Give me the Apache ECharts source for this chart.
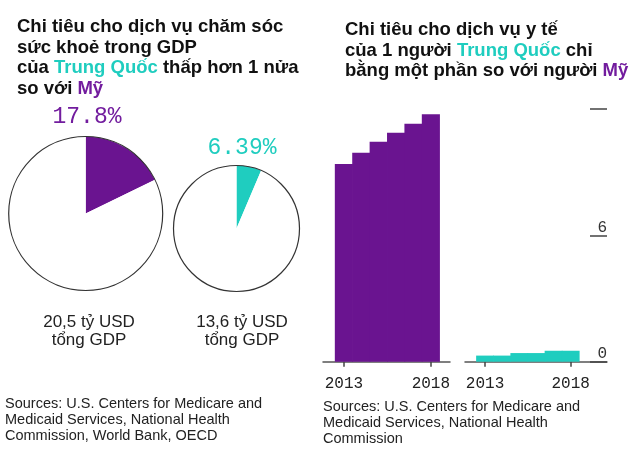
<!DOCTYPE html>
<html><head><meta charset="utf-8">
<script src="https://cdn.jsdelivr.net/npm/echarts@6/dist/echarts.min.js"></script>
<style>html,body{margin:0;padding:0;background:#fff}#c{width:630px;height:449px}</style>
</head><body><div id="c"></div>
<script>
// ---- data ----
const pieShares = [17.8, 6.39];
const pieShareLabels = ['17.8%', '6.39%'];
const gdpLabels = ['20,5 tỷ USD', '13,6 tỷ USD'];
const gdpSubLabel = 'tổng GDP';
const years = [2013, 2014, 2015, 2016, 2017, 2018];
const usSpend = [9.39, 9.92, 10.45, 10.87, 11.30, 11.75];
const chinaSpend = [0.29, 0.29, 0.41, 0.41, 0.52, 0.52];
const yearTicks = [2013, 2018];
const yHiddenLabels = [12];
const sourcesLeft = ['Sources: U.S. Centers for Medicare and', 'Medicaid Services, National Health', 'Commission, World Bank, OECD'];
const sourcesRight = ['Sources: U.S. Centers for Medicare and', 'Medicaid Services, National Health', 'Commission'];

// ---- style ----
const PURPLE = '#6a1490';
const PURPLE_TXT = '#721c9e';
const TEAL = '#1fcdbf';
const SANS = 'Liberation Sans';
const MONO = 'Liberation Mono';
const richT = {
  b: {fontFamily: SANS, fontWeight: 'bold', fontSize: 18.5, color: '#111', lineHeight: 20.5},
  t: {fontFamily: SANS, fontWeight: 'bold', fontSize: 18.5, color: TEAL, lineHeight: 20.5},
  p: {fontFamily: SANS, fontWeight: 'bold', fontSize: 18.5, color: PURPLE_TXT, lineHeight: 20.5}
};

const pieGeo = [
  {center: [85.7, 213.5], r: 77, color: PURPLE, txt: PURPLE_TXT, labX: 87, labTop: 105, gdpX: 89},
  {center: [236.5, 228.5], r: 63, color: TEAL, txt: TEAL, labX: 242, labTop: 136, gdpX: 242}
];

const titles = [
  {text: '{b|Chi tiêu cho dịch vụ chăm sóc}\n{b|sức khoẻ trong GDP}\n{b|của }{t|Trung Quốc}{b| thấp hơn 1 nửa}\n{b|so với }{p|Mỹ}',
   left: 17, top: 17, padding: 0, textStyle: {rich: richT}},
  {text: '{b|Chi tiêu cho dịch vụ y tế}\n{b|của 1 người }{t|Trung Quốc}{b| chỉ}\n{b|bằng một phần so với người }{p|Mỹ}',
   left: 345, top: 20, padding: 0, textStyle: {rich: richT}},
  {text: sourcesLeft.join('\n'), left: 5, top: 396, padding: 0,
   textStyle: {fontFamily: SANS, fontSize: 14.5, fontWeight: 'normal', color: '#222', lineHeight: 16}},
  {text: sourcesRight.join('\n'), left: 323, top: 399, padding: 0,
   textStyle: {fontFamily: SANS, fontSize: 14.5, fontWeight: 'normal', color: '#222', lineHeight: 16}}
];
const series = [];
pieShares.forEach((v, i) => {
  const g = pieGeo[i];
  titles.push({text: pieShareLabels[i], left: g.labX, top: g.labTop, textAlign: 'center', padding: 0,
    textStyle: {fontFamily: MONO, fontSize: 23, fontWeight: 'normal', color: g.txt}});
  titles.push({text: gdpLabels[i] + '\n' + gdpSubLabel, left: g.gdpX, top: 313, textAlign: 'center', padding: 0,
    textStyle: {fontFamily: SANS, fontSize: 17, fontWeight: 'normal', color: '#222', lineHeight: 18}});
  series.push({type: 'pie', center: g.center, radius: g.r, startAngle: 90, silent: true, animation: false,
    label: {show: false}, labelLine: {show: false},
    data: [{value: v, itemStyle: {color: g.color}}, {value: 100 - v, itemStyle: {color: '#fff'}}]});
  series.push({type: 'pie', center: g.center, radius: g.r, silent: true, animation: false, z: 3,
    label: {show: false}, labelLine: {show: false},
    data: [{value: 1, itemStyle: {color: 'rgba(0,0,0,0)', borderColor: '#333', borderWidth: 1.2}}]});
});

function xAx(idx, min, max) {
  return {gridIndex: idx, type: 'value', min: min, max: max,
    axisLine: {show: true, onZero: false, lineStyle: {color: '#555', width: 1.5}},
    axisTick: {show: true, customValues: yearTicks, length: 5, lineStyle: {color: '#444', width: 1.5}},
    axisLabel: {customValues: yearTicks, margin: 14, fontFamily: MONO, fontSize: 16, color: '#222', formatter: v => String(v)},
    splitLine: {show: false}};
}

// bars touching each other (one year wide), drawn via the axes' own scales
function stepBars(color) {
  return function (params, api) {
    const x = api.value(0), y = api.value(1);
    const pTop = api.coord([x - 0.5, y]);
    const pEnd = api.coord([x + 0.5, 0]);
    return {type: 'rect',
      shape: {x: pTop[0] - 0.35, y: pTop[1], width: pEnd[0] - pTop[0] + 0.7, height: pEnd[1] - pTop[1]},
      style: {fill: color}};
  };
}
series.push({type: 'custom', xAxisIndex: 0, yAxisIndex: 0, silent: true, animation: false, z: 1,
  renderItem: stepBars(PURPLE), encode: {x: 0, y: 1}, data: years.map((y, i) => [y, usSpend[i]])});
series.push({type: 'custom', xAxisIndex: 1, yAxisIndex: 1, silent: true, animation: false, z: 1,
  renderItem: stepBars(TEAL), encode: {x: 0, y: 1}, data: years.map((y, i) => [y, chinaSpend[i]])});

const option = {
  animation: false,
  backgroundColor: '#fff',
  title: titles,
  grid: [
    {left: 323, width: 127, top: 109, height: 252.7},
    {left: 465, width: 142, top: 109, height: 252.7}
  ],
  xAxis: [xAx(0, 2011.8, 2019.1), xAx(1, 2011.83, 2020.12)],
  yAxis: [
    {gridIndex: 0, type: 'value', min: 0, max: 12, interval: 6, show: false},
    {gridIndex: 1, type: 'value', min: 0, max: 12, interval: 6, position: 'right',
     axisLine: {show: false},
     axisTick: {show: true, inside: true, length: 17, lineStyle: {color: '#444', width: 1.5}},
     axisLabel: {inside: true, margin: 0, verticalAlign: 'bottom', fontFamily: MONO, fontSize: 16, color: '#333',
       formatter: v => yHiddenLabels.indexOf(v) >= 0 ? '' : String(v)},
     splitLine: {show: false}}
  ],
  series: series
};
const chart = echarts.init(document.getElementById('c'), null, {renderer: 'canvas'});
chart.setOption(option);
</script></body></html>
